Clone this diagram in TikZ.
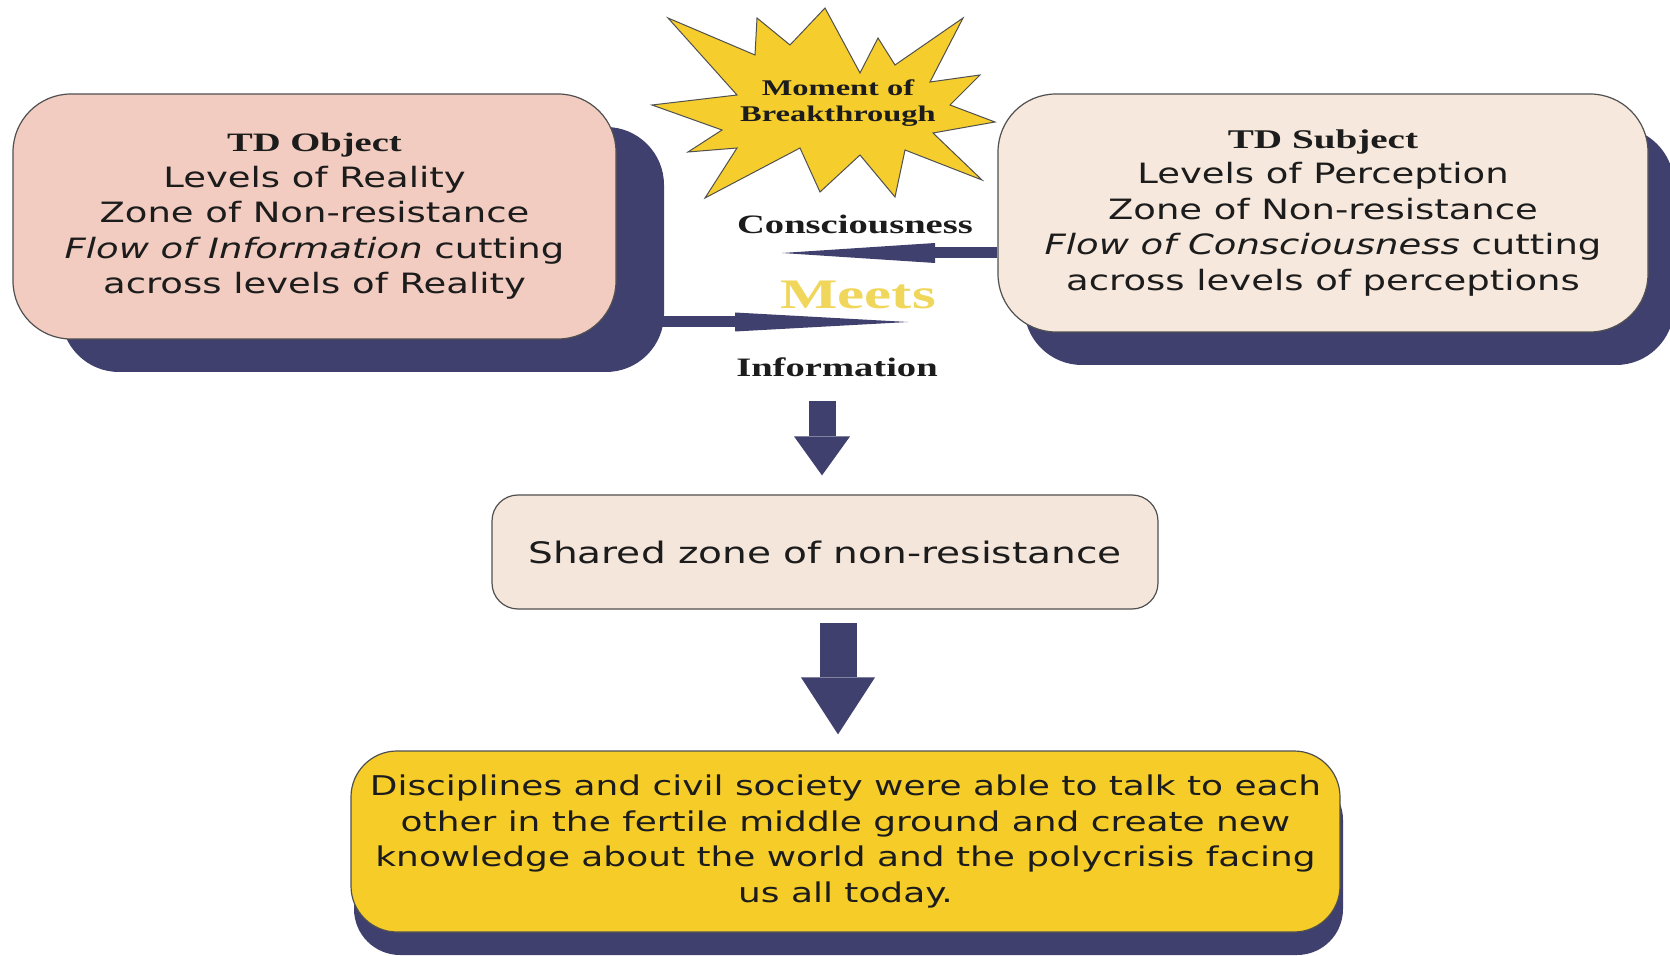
\documentclass[tikz,border=0pt]{standalone}
\usepackage{fontspec}
\usetikzlibrary{arrows.meta,shadows}
\newfontfamily\comic{DejaVu Sans}[FakeStretch=1.32]
\newfontfamily\tnr{Liberation Serif}[FakeStretch=1.45]
\definecolor{navy}{RGB}{64,64,110}
\definecolor{pinkfill}{RGB}{242,204,192}
\definecolor{creamfill}{RGB}{246,232,220}
\definecolor{sharedfill}{RGB}{245,230,220}
\definecolor{goldfill}{RGB}{246,205,40}
\definecolor{starfill}{RGB}{245,205,45}
\definecolor{meetsc}{RGB}{240,214,90}
\definecolor{txt}{RGB}{28,28,28}
\definecolor{edge}{RGB}{80,80,80}
\begin{document}
\begin{tikzpicture}[x=0.5pt,y=-0.5pt,
  box/.style={draw=edge, line width=0.6pt, inner sep=0pt, align=center, text=txt,
    font=\comic\fontsize{14}{17.75}\selectfont},
  bigbox/.style={box, rounded corners=29pt},
  lbl/.style={inner sep=0pt, text=txt, font=\tnr\bfseries\fontsize{13.3}{16}\selectfont},
  starst/.style={fill=starfill, draw=edge, line width=0.5pt, line join=miter},
  sidearrowL/.style={navy, line width=5.5pt, -{Triangle[length=76.5pt,width=10pt,line width=0pt]}},
  sidearrowR/.style={navy, line width=5.5pt, -{Triangle[length=86.5pt,width=9.5pt,line width=0pt]}},
  downA/.style={navy, line width=13.5pt, -{Triangle[length=19.5pt,width=28pt,line width=0pt]}},
  downB/.style={navy, line width=18.5pt, -{Triangle[length=28.5pt,width=37pt,line width=0pt]}}
]
\fill[white] (0,0) rectangle (1670,956);
\useasboundingbox (0,0) rectangle (1670,956);

% star
\filldraw[starst] (668,18) -- (755,55) -- (757,18) -- (790,45) -- (825,8) -- (860,73) -- (878,38) -- (895,65) -- (963,18) -- (930,82) -- (980,75) -- (950,105) -- (995,122) -- (933,133) -- (982,180) -- (905,150) -- (895,197) -- (860,155) -- (820,192) -- (800,148) -- (705,198) -- (737,148) -- (688,152) -- (722,130) -- (652,105) -- (737,95) -- cycle;
\node[lbl, align=center, font=\tnr\bfseries\fontsize{11.2}{13.2}\selectfont] (brk) at (838,103) {Moment of\\Breakthrough};

% boxes
\node[bigbox, fill=pinkfill, minimum width=301.5pt, minimum height=122.5pt,
  drop shadow={shadow xshift=24pt, shadow yshift=-16.5pt, fill=navy, opacity=1}] (obj) at (314.5,216.5)
  {{\tnr\bfseries\fontsize{13.3}{17.75}\selectfont TD Object}\\
   Levels of Reality\\
   Zone of Non-resistance\\
   {\itshape Flow of Information} cutting\\
   across levels of Reality};

\node[bigbox, fill=creamfill, minimum width=325pt, minimum height=119pt,
  drop shadow={shadow xshift=13pt, shadow yshift=-16.5pt, fill=navy, opacity=1}] (subj) at (1323,213)
  {{\tnr\bfseries\fontsize{13.5}{17.75}\selectfont TD Subject}\\
   Levels of Perception\\
   Zone of Non-resistance\\
   {\itshape Flow of Consciousness} cutting\\
   across levels of perceptions};

\node[box, rounded corners=13pt, fill=sharedfill, minimum width=333pt, minimum height=57pt,
  font=\comic\fontsize{14.8}{17.75}\selectfont] (shared) at (825,552)
  {Shared zone of non-resistance};

\node[box, rounded corners=23pt, fill=goldfill, minimum width=494.5pt, minimum height=90.5pt,
  font=\comic\fontsize{13.6}{17.75}\selectfont,
  drop shadow={shadow xshift=1.5pt, shadow yshift=-11.5pt, fill=navy, opacity=1}] (result) at (845.5,841.5)
  {Disciplines and civil society were able to talk to each\\
   other in the fertile middle ground and create new\\
   knowledge about the world and the polycrisis facing\\
   us all today.};

% labels
\node[lbl] (cons) at (855,224) {Consciousness};
\node[lbl, text=meetsc, font=\tnr\bfseries\fontsize{21}{24}\selectfont] (meets) at (858,295) {Meets};
\node[lbl] (info) at (837,367) {Information};

% arrows
\coordinate (ctip) at (782,253);
\draw[sidearrowL] (subj.west |- ctip) -- (ctip);
\coordinate (itip) at (908,322);
\draw[sidearrowR] (obj.east |- itip) -- (itip);

\coordinate (a1) at (822,401);
\draw[downA, shorten >=9.5pt] (a1) -- (a1 |- shared.north);
\coordinate (a2) at (838,623);
\draw[downB, shorten >=8pt] (a2) -- (a2 |- result.north);
\end{tikzpicture}
\end{document}
